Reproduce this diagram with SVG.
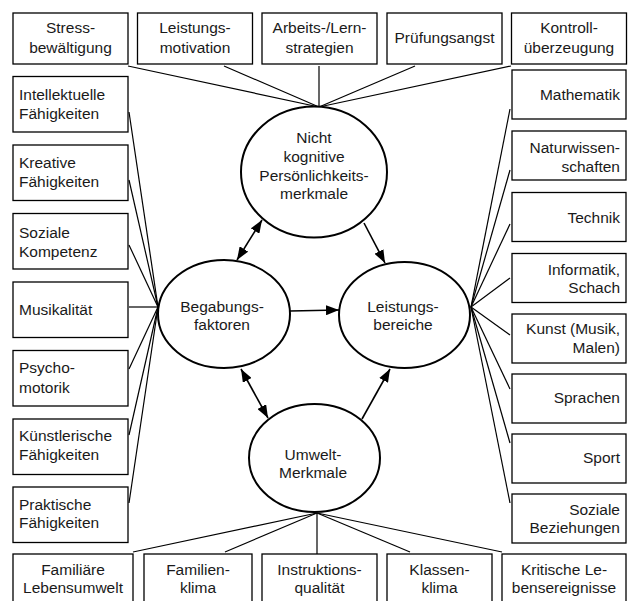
<svg xmlns="http://www.w3.org/2000/svg" width="635" height="601" viewBox="0 0 635 601">
  <style>
    .box { fill: #fff; stroke: #000; stroke-width: 1.3; }
    .ell { fill: #fff; stroke: #000; stroke-width: 2; }
    .fan { stroke: #000; stroke-width: 1.2; fill: none; }
    .arr { stroke: #000; stroke-width: 1.6; fill: none; }
    text { font-family: "Liberation Sans", Arial, sans-serif; font-size: 15.5px; fill: #1a1a1a; }
    .c { text-anchor: middle; }
    .l { text-anchor: start; }
    .r { text-anchor: end; }
  </style>
  <defs>
    <marker id="head" markerUnits="userSpaceOnUse" markerWidth="14" markerHeight="10" refX="13" refY="5" orient="auto-start-reverse">
      <path d="M0,0 L13,5 L0,10 z" fill="#000"/>
    </marker>
  </defs>
  <rect width="635" height="601" fill="#fff"/>

  <!-- connectors: fans into the four ellipses and arrows between them -->
  <g id="connectors">
    <!-- top row into "Nicht kognitive ..." -->
    <line class="fan" x1="128" y1="66" x2="319" y2="107"/>
    <line class="fan" x1="224" y1="66" x2="319" y2="107"/>
    <line class="fan" x1="319" y1="66" x2="319" y2="107"/>
    <line class="fan" x1="415" y1="66" x2="319" y2="107"/>
    <line class="fan" x1="511" y1="66" x2="319" y2="107"/>
    <!-- left column into "Begabungsfaktoren" -->
    <line class="fan" x1="129" y1="112" x2="158" y2="307"/>
    <line class="fan" x1="129" y1="180" x2="158" y2="307"/>
    <line class="fan" x1="129" y1="245" x2="158" y2="307"/>
    <line class="fan" x1="129" y1="307" x2="158" y2="307"/>
    <line class="fan" x1="129" y1="369" x2="158" y2="307"/>
    <line class="fan" x1="129" y1="435" x2="158" y2="307"/>
    <line class="fan" x1="129" y1="503" x2="158" y2="307"/>
    <!-- right column into "Leistungsbereiche" -->
    <line class="fan" x1="510" y1="109" x2="471" y2="307"/>
    <line class="fan" x1="510" y1="170" x2="471" y2="307"/>
    <line class="fan" x1="510" y1="224" x2="471" y2="307"/>
    <line class="fan" x1="510" y1="278" x2="471" y2="307"/>
    <line class="fan" x1="510" y1="335" x2="471" y2="307"/>
    <line class="fan" x1="510" y1="389" x2="471" y2="307"/>
    <line class="fan" x1="510" y1="443" x2="471" y2="307"/>
    <line class="fan" x1="510" y1="503" x2="471" y2="307"/>
    <!-- bottom row into "Umwelt-Merkmale" -->
    <line class="fan" x1="133" y1="552" x2="317" y2="513"/>
    <line class="fan" x1="225" y1="552" x2="317" y2="513"/>
    <line class="fan" x1="317" y1="554" x2="317" y2="513"/>
    <line class="fan" x1="410" y1="552" x2="317" y2="513"/>
    <line class="fan" x1="502" y1="552" x2="317" y2="513"/>
    <!-- arrows between the ellipses -->
    <line class="arr" x1="262" y1="220" x2="237" y2="260" marker-start="url(#head)" marker-end="url(#head)"/>
    <line class="arr" x1="364" y1="223" x2="385" y2="263" marker-end="url(#head)"/>
    <line class="arr" x1="290" y1="311" x2="339" y2="310" marker-end="url(#head)"/>
    <line class="arr" x1="241" y1="369" x2="268" y2="418" marker-start="url(#head)" marker-end="url(#head)"/>
    <line class="arr" x1="362" y1="419" x2="390" y2="369" marker-end="url(#head)"/>
  </g>

  <!-- central ellipses -->
  <g id="nicht-kognitiv">
    <ellipse class="ell" cx="314" cy="172" rx="73" ry="65.5"/>
    <text class="c" x="314" y="143">Nicht</text>
    <text class="c" x="314" y="162">kognitive</text>
    <text class="c" x="314" y="181">Persönlichkeits-</text>
    <text class="c" x="314" y="199">merkmale</text>
  </g>
  <g id="begabung">
    <ellipse class="ell" cx="224" cy="314" rx="66" ry="54"/>
    <text class="c" x="222" y="312">Begabungs-</text>
    <text class="c" x="222" y="330">faktoren</text>
  </g>
  <g id="leistung">
    <ellipse class="ell" cx="404.5" cy="315" rx="65.5" ry="53"/>
    <text class="c" x="403" y="312">Leistungs-</text>
    <text class="c" x="403" y="330">bereiche</text>
  </g>
  <g id="umwelt">
    <ellipse class="ell" cx="314.5" cy="458" rx="65.5" ry="54"/>
    <text class="c" x="313" y="460">Umwelt-</text>
    <text class="c" x="313" y="478">Merkmale</text>
  </g>

  <!-- top row -->
  <g id="stress">
    <rect class="box" x="13" y="13" width="115" height="51"/>
    <text class="c" x="70.5" y="33">Stress-</text>
    <text class="c" x="70.5" y="53">bewältigung</text>
  </g>
  <g id="motivation">
    <rect class="box" x="137.5" y="13" width="115" height="51"/>
    <text class="c" x="195" y="33">Leistungs-</text>
    <text class="c" x="195" y="53">motivation</text>
  </g>
  <g id="strategien">
    <rect class="box" x="262" y="13" width="115" height="51"/>
    <text class="c" x="319.5" y="33">Arbeits-/Lern-</text>
    <text class="c" x="319.5" y="53">strategien</text>
  </g>
  <g id="pruefungsangst">
    <rect class="box" x="387" y="13" width="115" height="51"/>
    <text class="c" x="444.5" y="43">Prüfungsangst</text>
  </g>
  <g id="kontrolle">
    <rect class="box" x="511.5" y="13" width="115" height="51"/>
    <text class="c" x="569" y="33">Kontroll-</text>
    <text class="c" x="569" y="53">überzeugung</text>
  </g>

  <!-- left column -->
  <g id="intellektuell">
    <rect class="box" x="13" y="76.5" width="115" height="55.5"/>
    <text class="l" x="19" y="100">Intellektuelle</text>
    <text class="l" x="19" y="119">Fähigkeiten</text>
  </g>
  <g id="kreativ">
    <rect class="box" x="13" y="145" width="115" height="55.5"/>
    <text class="l" x="19" y="168">Kreative</text>
    <text class="l" x="19" y="187">Fähigkeiten</text>
  </g>
  <g id="sozial">
    <rect class="box" x="13" y="213.5" width="115" height="55.5"/>
    <text class="l" x="19" y="238">Soziale</text>
    <text class="l" x="19" y="257">Kompetenz</text>
  </g>
  <g id="musikalitaet">
    <rect class="box" x="13" y="282" width="115" height="55.5"/>
    <text class="l" x="19" y="315">Musikalität</text>
  </g>
  <g id="psychomotorik">
    <rect class="box" x="13" y="350.5" width="115" height="55.5"/>
    <text class="l" x="19" y="373">Psycho-</text>
    <text class="l" x="19" y="393">motorik</text>
  </g>
  <g id="kuenstlerisch">
    <rect class="box" x="13" y="419" width="115" height="55.5"/>
    <text class="l" x="19" y="441">Künstlerische</text>
    <text class="l" x="19" y="460">Fähigkeiten</text>
  </g>
  <g id="praktisch">
    <rect class="box" x="13" y="487" width="115" height="55.5"/>
    <text class="l" x="19" y="510">Praktische</text>
    <text class="l" x="19" y="528">Fähigkeiten</text>
  </g>

  <!-- right column -->
  <g id="mathematik">
    <rect class="box" x="512" y="70" width="114" height="49"/>
    <text class="r" x="620" y="100">Mathematik</text>
  </g>
  <g id="naturwissenschaften">
    <rect class="box" x="512" y="131" width="114" height="49"/>
    <text class="r" x="620" y="153">Naturwissen-</text>
    <text class="r" x="620" y="172">schaften</text>
  </g>
  <g id="technik">
    <rect class="box" x="512" y="192.5" width="114" height="49"/>
    <text class="r" x="620" y="223">Technik</text>
  </g>
  <g id="informatik">
    <rect class="box" x="512" y="253.5" width="114" height="49"/>
    <text class="r" x="620" y="275">Informatik,</text>
    <text class="r" x="620" y="293">Schach</text>
  </g>
  <g id="kunst">
    <rect class="box" x="512" y="314" width="114" height="49"/>
    <text class="r" x="620" y="334">Kunst (Musik,</text>
    <text class="r" x="620" y="353">Malen)</text>
  </g>
  <g id="sprachen">
    <rect class="box" x="512" y="374" width="114" height="49"/>
    <text class="r" x="620" y="403">Sprachen</text>
  </g>
  <g id="sport">
    <rect class="box" x="512" y="434" width="114" height="49"/>
    <text class="r" x="620" y="463">Sport</text>
  </g>
  <g id="beziehungen">
    <rect class="box" x="512" y="494" width="114" height="49"/>
    <text class="r" x="620" y="515">Soziale</text>
    <text class="r" x="620" y="533">Beziehungen</text>
  </g>

  <!-- bottom row -->
  <g id="lebensumwelt">
    <rect class="box" x="13" y="554" width="120" height="52"/>
    <text class="c" x="73" y="575">Familiäre</text>
    <text class="c" x="73" y="593">Lebensumwelt</text>
  </g>
  <g id="familienklima">
    <rect class="box" x="144" y="554" width="108" height="52"/>
    <text class="c" x="198" y="575">Familien-</text>
    <text class="c" x="198" y="593">klima</text>
  </g>
  <g id="instruktion">
    <rect class="box" x="262" y="554" width="115" height="52"/>
    <text class="c" x="319.5" y="575">Instruktions-</text>
    <text class="c" x="319.5" y="593">qualität</text>
  </g>
  <g id="klassenklima">
    <rect class="box" x="387" y="554" width="105" height="52"/>
    <text class="c" x="439.5" y="575">Klassen-</text>
    <text class="c" x="439.5" y="593">klima</text>
  </g>
  <g id="lebensereignisse">
    <rect class="box" x="502" y="554" width="124" height="52"/>
    <text class="c" x="564" y="575">Kritische Le-</text>
    <text class="c" x="564" y="593">bensereignisse</text>
  </g>
</svg>
